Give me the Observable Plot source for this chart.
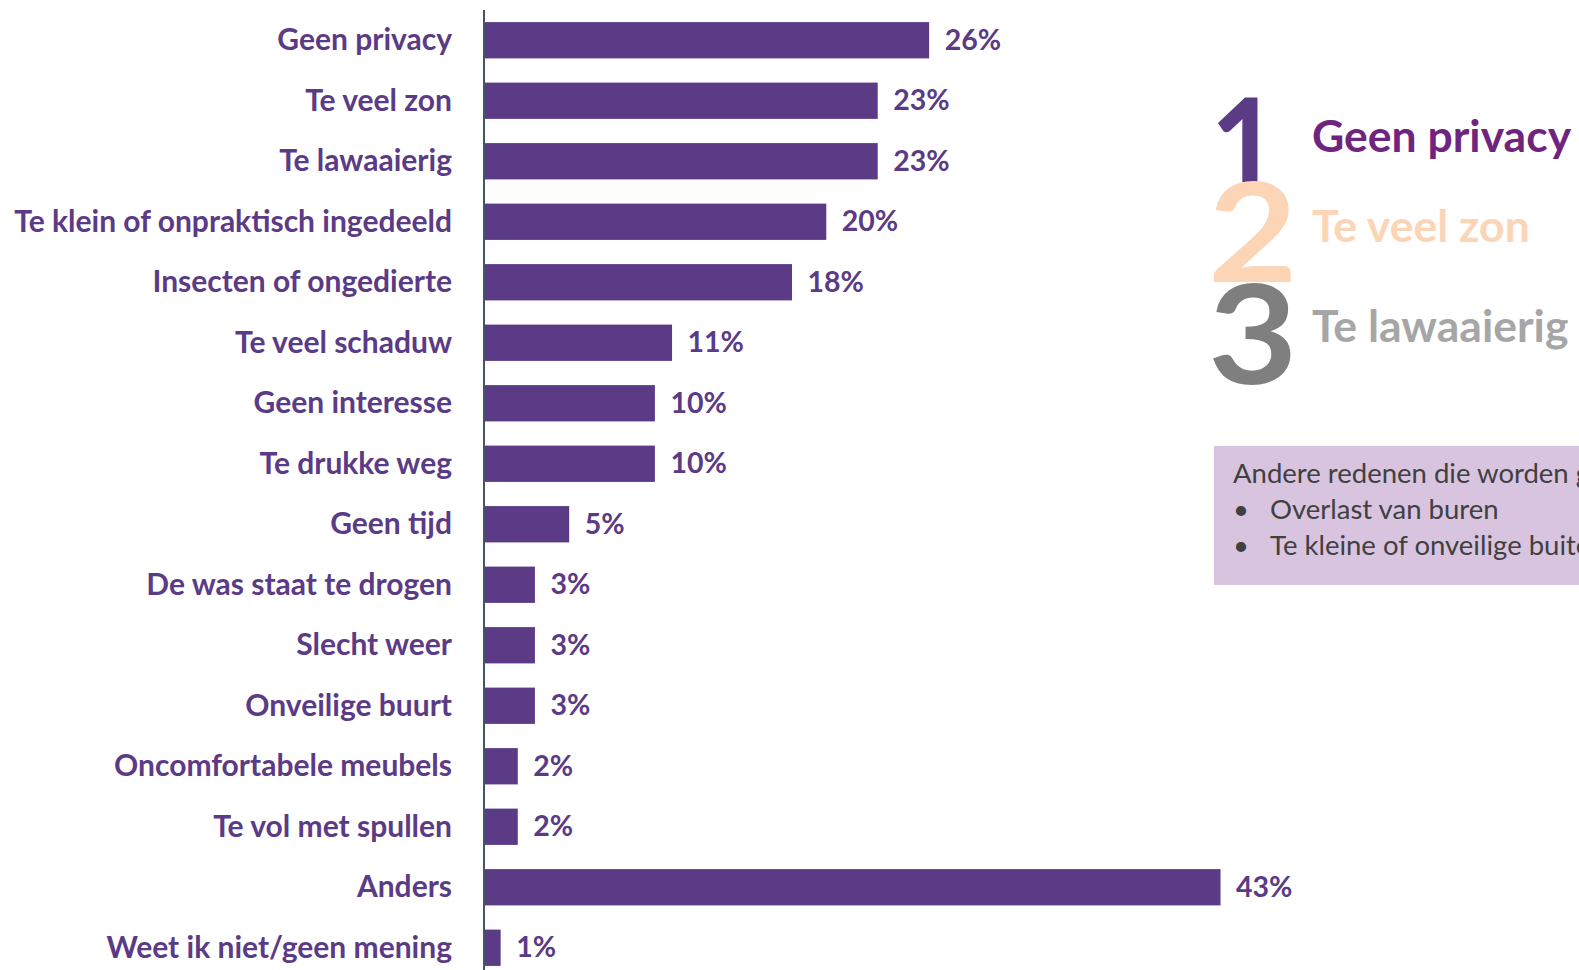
<!DOCTYPE html>
<html>
<head>
<meta charset="utf-8">
<script src="https://cdn.jsdelivr.net/npm/d3@7"></script>
<script src="https://cdn.jsdelivr.net/npm/@observablehq/plot@0.6"></script>
<style>
  html, body { margin: 0; padding: 0; overflow: hidden; background: #fff; width: 1579px; height: 970px; }
  #wrap { position: relative; width: 1579px; height: 970px; overflow: hidden; font-family: Lato, "Noto Sans", sans-serif; }
  #chart { position: absolute; left: 0; top: 0; }
  .big { position: absolute; font-weight: bold; line-height: 1; transform-origin: left top; }
  .top { position: absolute; font-weight: bold; white-space: nowrap; line-height: 1; }
  #box { position: absolute; left: 1214px; top: 446px; width: 420px; height: 139px; background: #D9C4E0; color: #404040; font-size: 27.5px; white-space: nowrap; }
  #box div { position: absolute; }
</style>
</head>
<body>
<div id="wrap">
  <div id="chart"></div>
  <div class="big" style="left:1210px; top:76px; font-size:136px; color:#5B3A86; transform:scaleX(0.9); clip-path: inset(0 0 30px 0);">1</div>
  <div class="big" style="left:1208px; top:160px; font-size:138px; color:#FBD5B5; transform:scaleX(1.12);">2</div>
  <div class="big" style="left:1208px; top:262px; font-size:138px; color:#7F7F7F; transform:scaleX(1.12);">3</div>
  <div class="top" style="left:1312px; top:113px; font-size:44.5px; color:#6F2580;">Geen privacy</div>
  <div class="top" style="left:1312px; top:203px; font-size:44.5px; color:#FBD5B5;">Te veel zon</div>
  <div class="top" style="left:1312px; top:303px; font-size:44.5px; color:#A6A6A6;">Te lawaaierig</div>
  <div id="box">
    <div style="left:19px; top:10px;">Andere redenen die worden genoemd:</div>
    <div style="left:19px; top:46px;">•</div>
    <div style="left:56px; top:46px;">Overlast van buren</div>
    <div style="left:19px; top:82px;">•</div>
    <div style="left:56px; top:82px;">Te kleine of onveilige buitenruimte</div>
  </div>
</div>
<script>
const categories = [
  "Geen privacy",
  "Te veel zon",
  "Te lawaaierig",
  "Te klein of onpraktisch ingedeeld",
  "Insecten of ongedierte",
  "Te veel schaduw",
  "Geen interesse",
  "Te drukke weg",
  "Geen tijd",
  "De was staat te drogen",
  "Slecht weer",
  "Onveilige buurt",
  "Oncomfortabele meubels",
  "Te vol met spullen",
  "Anders",
  "Weet ik niet/geen mening"
];
const values = [26, 23, 23, 20, 18, 11, 10, 10, 5, 3, 3, 3, 2, 2, 43, 1];

const data = categories.map((c, i) => ({category: c, value: values[i]}));
const purple = "#5B3A86";

const chart = Plot.plot({
  width: 1579,
  height: 978,
  marginLeft: 483.5,
  marginRight: 358.5,
  marginTop: 10,
  marginBottom: 0,
  style: {fontFamily: "Lato, 'Noto Sans', sans-serif", background: "transparent"},
  x: {domain: [0, 43], axis: null},
  y: {domain: categories, paddingInner: 0.4, paddingOuter: 0.2, round: false, axis: null},
  marks: [
    Plot.barX(data, {x: "value", y: "category", fill: purple}),
    Plot.axisY({tickSize: 0, tickPadding: 32, fontSize: 30, fontWeight: "bold", fill: purple, label: null}),
    Plot.ruleX([0], {stroke: "#44546A", strokeWidth: 2}),
    Plot.text(data, {x: "value", y: "category", text: d => d.value + "%", dx: 15, textAnchor: "start", fill: purple, fontSize: 28.5, fontWeight: "bold"})
  ]
});
document.getElementById("chart").appendChild(chart);
</script>
</body>
</html>
